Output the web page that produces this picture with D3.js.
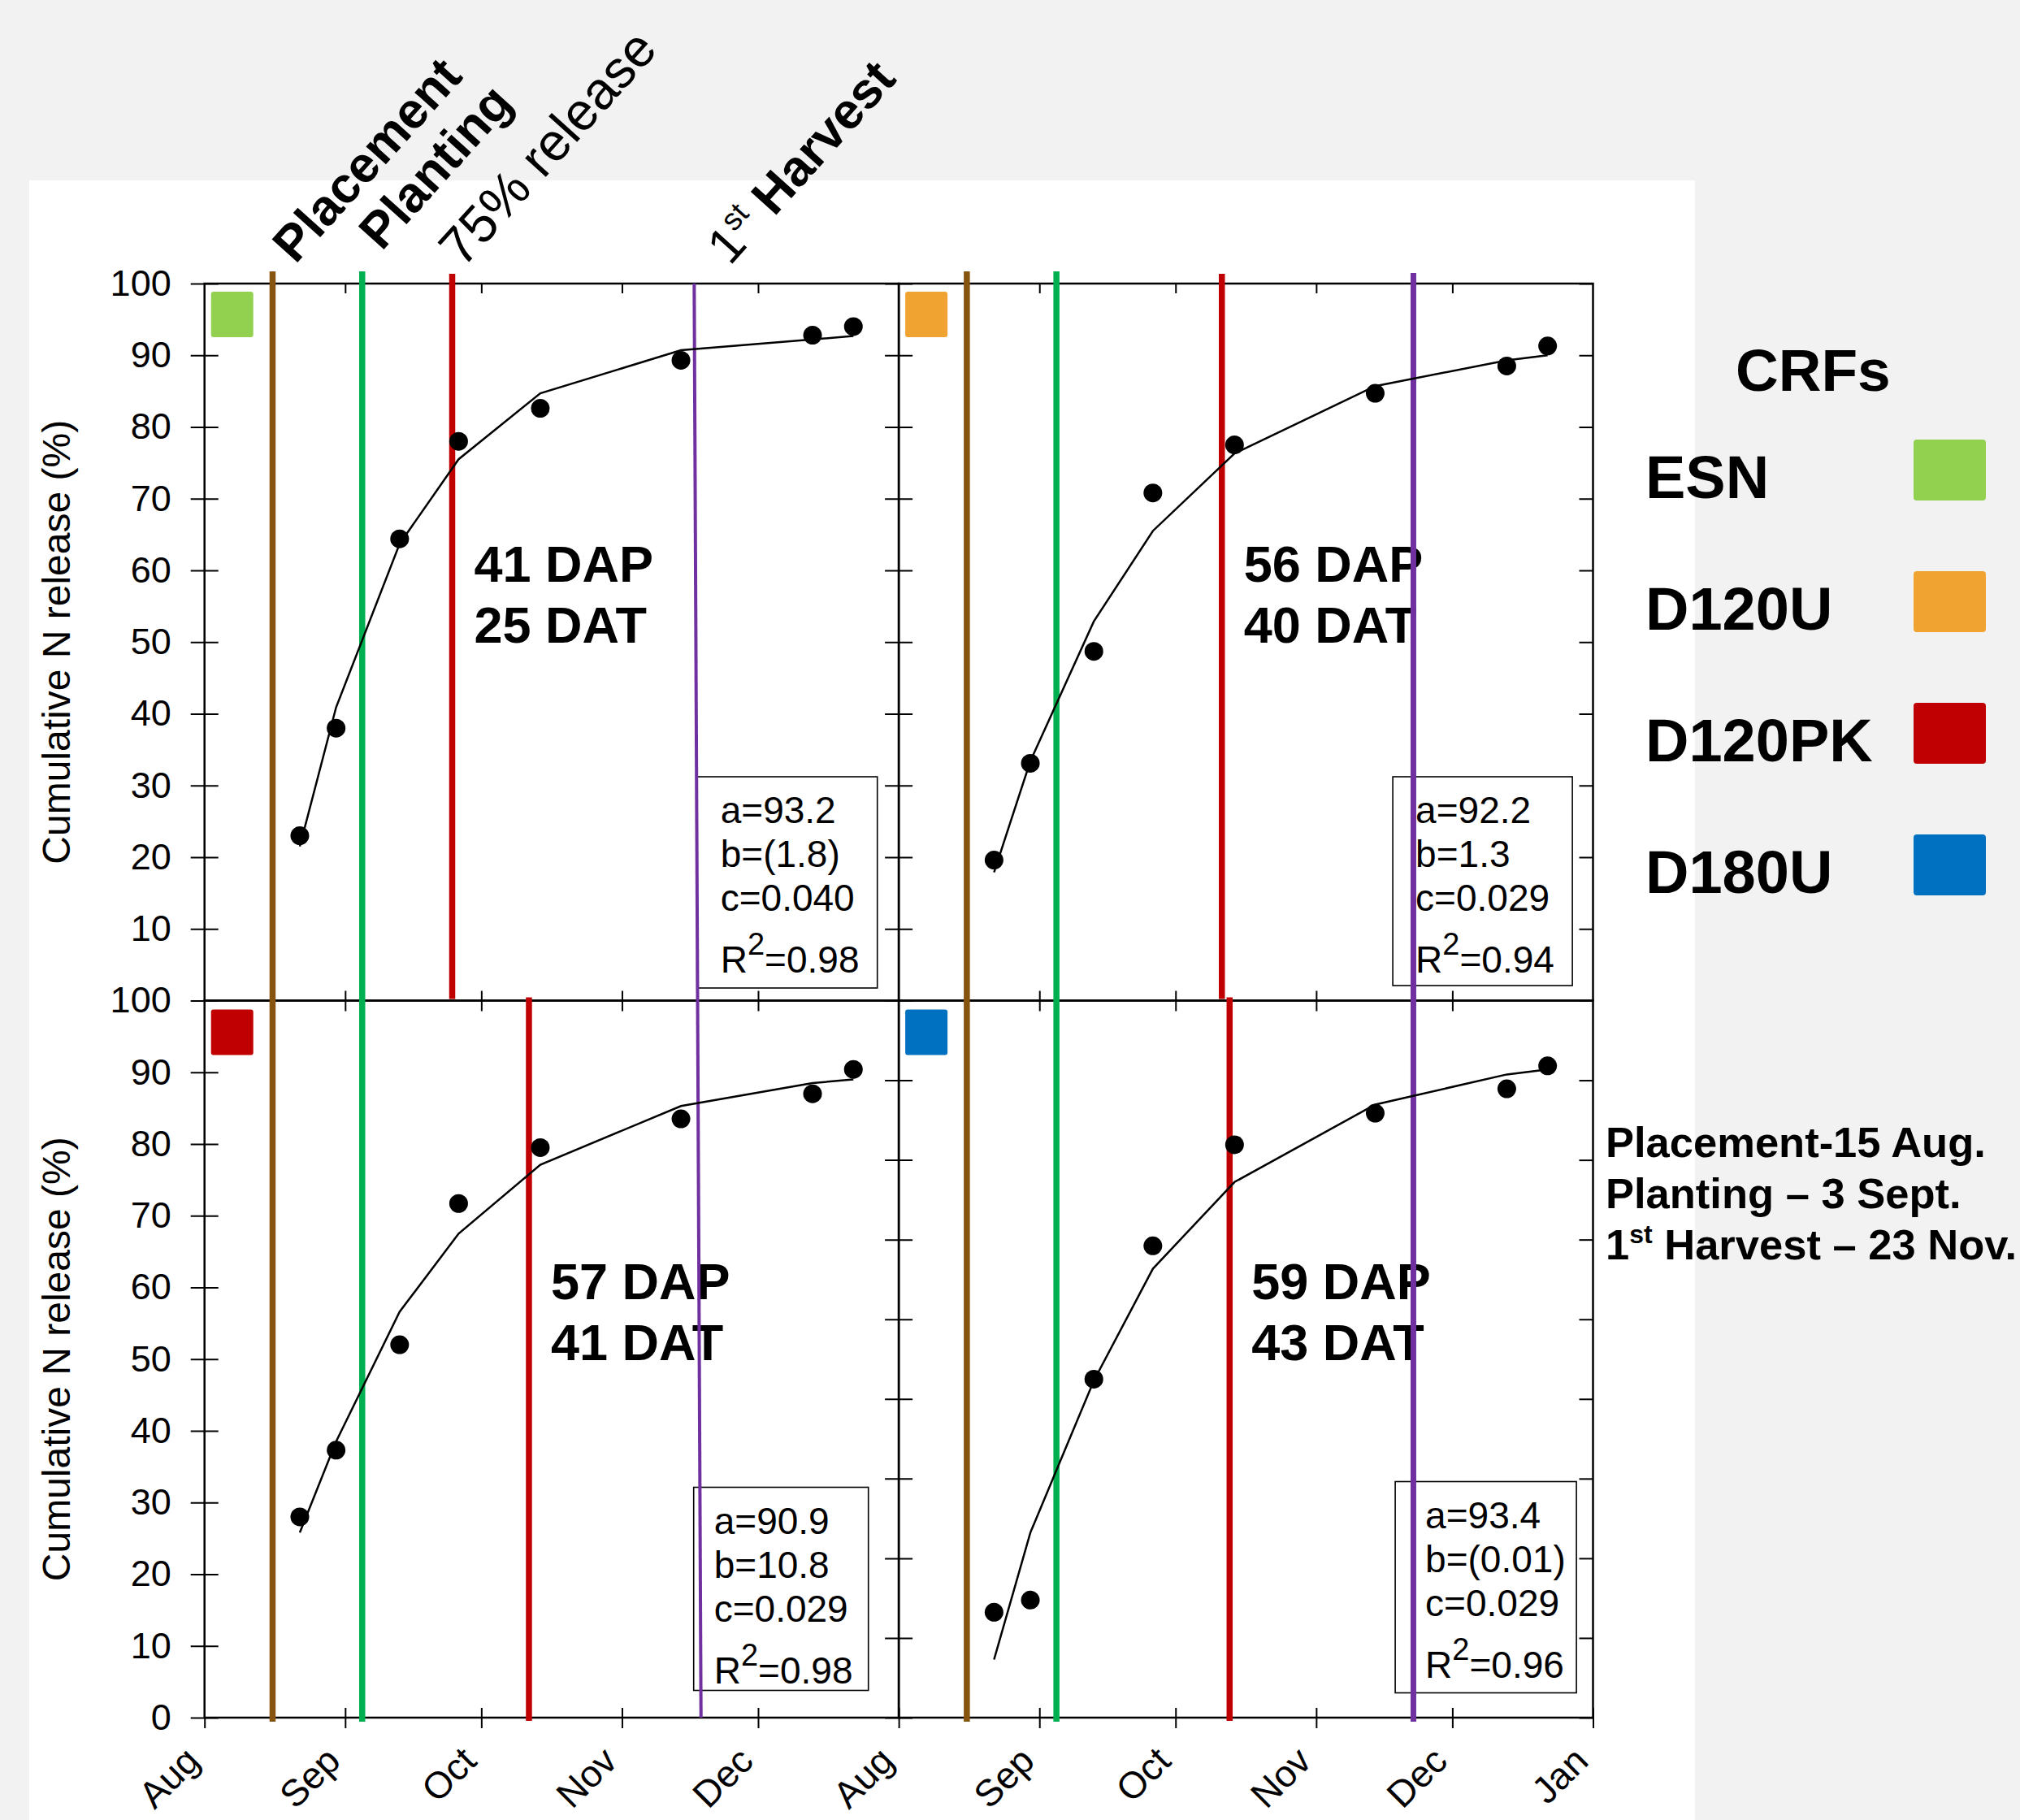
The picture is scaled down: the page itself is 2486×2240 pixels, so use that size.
<!DOCTYPE html>
<html>
<head>
<meta charset="utf-8">
<script src="https://cdn.jsdelivr.net/npm/d3@7"></script>
<style>
  body { margin: 0; background: #f2f2f2; }
  svg text { font-family: "Liberation Sans", Arial, sans-serif; fill: #000; }
</style>
</head>
<body>
<div id="chart"></div>
<script>
// ---- data ----
const crfNames = ["ESN", "D120U", "D120PK", "D180U"];
const crfColors = ["#92d050", "#f0a330", "#c00000", "#0070c0"];

const sampleDates = ["2015-08-22", "2015-08-30", "2015-09-13", "2015-09-26",
                     "2015-10-14", "2015-11-14", "2015-12-13", "2015-12-22"];

const esnObserved    = [23.0, 38.0, 64.4, 78.0, 82.6, 89.3, 92.8, 94.0];
const esnFitted      = [21.5, 40.9, 63.7, 75.5, 84.7, 90.7, 92.2, 92.7];
const d120uObserved  = [19.6, 33.1, 48.7, 70.8, 77.5, 84.7, 88.5, 91.3];
const d120uFitted    = [17.9, 33.4, 52.9, 65.5, 76.3, 85.7, 89.3, 90.0];
const d120pkObserved = [28.0, 37.3, 52.0, 71.7, 79.5, 83.5, 87.0, 90.4];
const d120pkFitted   = [25.8, 38.5, 56.6, 67.5, 77.1, 85.3, 88.5, 89.0];
const d180uObserved  = [14.7, 16.4, 47.2, 65.8, 79.9, 84.3, 87.7, 90.9];
const d180uFitted    = [8.1, 25.8, 47.0, 62.6, 74.7, 85.5, 89.7, 90.4];

const dapLabels = ["41 DAP", "56 DAP", "57 DAP", "59 DAP"];
const datLabels = ["25 DAT", "40 DAT", "41 DAT", "43 DAT"];
const fitA  = ["93.2", "92.2", "90.9", "93.4"];
const fitB  = ["(1.8)", "1.3", "10.8", "(0.01)"];
const fitC  = ["0.040", "0.029", "0.029", "0.029"];
const fitR2 = ["0.98", "0.94", "0.98", "0.96"];

// event lines as drawn
const placementDate = "2015-08-16T00:00";
const plantingDate  = "2015-09-04T18:00";
const releaseDates  = ["2015-09-24T14:00", "2015-10-11T05:00", "2015-10-11T12:00", "2015-10-12T22:00"];
const harvestLeft   = ["2015-11-16T22:00", "2015-11-18T10:00"];  // slanted in the left column
const harvestRight  = "2015-11-22T10:00";

const monthTicks = ["2015-08-01", "2015-09-01", "2015-10-01", "2015-11-01", "2015-12-01", "2016-01-01"];
const yTicks = [0, 10, 20, 30, 40, 50, 60, 70, 80, 90, 100];
const yTicksLowerRight = [0, 10, 20, 30, 40, 50, 60, 70, 80, 90];

const notes = ["Placement-15 Aug.", "Planting \u2013 3 Sept.", "Harvest \u2013 23 Nov."];

// ---- layout ----
const width = 2486;
const height = 2240;
const X0 = 251.7, Y0 = 349;
const W = 854.4, H = 882.5;

const lineColors = { placement: "#86540f", planting: "#00b050", release: "#c00000", harvest: "#7030a0" };

const statBoxes = [
  { x: 606, y: 607, w: 222, h: 260, pad: 29 },
  { x: 608, y: 607, w: 221, h: 257, pad: 28 },
  { x: 602, y: 599, w: 215, h: 250, pad: 25 },
  { x: 611, y: 592, w: 223, h: 260, pad: 37 }
];
const statBaselines = [57, 111, 165, 241];

const parseDay = d3.utcParse("%Y-%m-%d");
const parseTime = d3.utcParse("%Y-%m-%dT%H:%M");

const x = d3.scaleUtc()
  .domain([parseDay(monthTicks[0]), parseDay(monthTicks[monthTicks.length - 1])])
  .range([0, W]);
const y = d3.scaleLinear().domain([0, 100]).range([H, 0]);
const yLowerRight = d3.scaleLinear().domain([0, 90]).range([H, 0]);

const observedSets = [esnObserved, d120uObserved, d120pkObserved, d180uObserved];
const fittedSets = [esnFitted, d120uFitted, d120pkFitted, d180uFitted];

const panels = crfNames.map((name, i) => ({
  name,
  color: crfColors[i],
  col: i % 2,
  row: Math.floor(i / 2),
  observed: sampleDates.map((d, j) => ({ date: parseDay(d), v: observedSets[i][j] })),
  fitted: sampleDates.map((d, j) => ({ date: parseDay(d), v: fittedSets[i][j] })),
  release: parseTime(releaseDates[i]),
  box: statBoxes[i],
  stats: [fitA[i], fitB[i], fitC[i], fitR2[i]],
  dap: dapLabels[i],
  dat: datLabels[i]
}));

const svg = d3.select("#chart").append("svg")
  .attr("width", width)
  .attr("height", height)
  .style("display", "block");

svg.append("rect").attr("width", width).attr("height", height).attr("fill", "#f2f2f2");
svg.append("rect").attr("x", 36).attr("y", 222).attr("width", 2050).attr("height", height - 222).attr("fill", "#fff");

const months = monthTicks.map(parseDay);
const fmtMonth = d3.utcFormat("%b");

// ---- frames and axes ----
panels.forEach(p => {
  const g = svg.append("g")
    .attr("transform", `translate(${X0 + p.col * W}, ${Y0 + p.row * H})`);

  g.append("rect")
    .attr("width", W).attr("height", H)
    .attr("fill", "none").attr("stroke", "#000").attr("stroke-width", 2.5);

  const yScaleTicks = p.col === 1 && p.row === 1 ? yLowerRight : y;
  const yVals = p.col === 1 && p.row === 1 ? yTicksLowerRight : yTicks;

  // left axis, ticks cross the line
  const left = g.append("g")
    .call(d3.axisLeft(yScaleTicks)
      .tickValues(p.col === 0 && p.row === 0 ? yVals.slice(1) : yVals)
      .tickSize(17)
      .tickPadding(24)
      .tickFormat(p.col === 0 ? d3.format("d") : ""));
  left.select(".domain").remove();
  left.selectAll(".tick line").attr("x1", 17).attr("stroke-width", 2);
  left.selectAll(".tick text")
    .attr("font-size", 45)
    .attr("font-family", "Liberation Sans, Arial, sans-serif");

  // right border of the right column: ticks inside
  if (p.col === 1) {
    const right = g.append("g")
      .attr("transform", `translate(${W}, 0)`)
      .call(d3.axisRight(yScaleTicks).tickValues(yVals).tickSize(-17).tickFormat(""));
    right.select(".domain").remove();
    right.selectAll(".tick line").attr("stroke-width", 2);
  }

  // top border ticks
  const top = g.append("g")
    .call(d3.axisTop(x).tickValues(months.slice(1, -1)).tickSize(p.row === 0 ? -12 : 12).tickFormat(""));
  top.select(".domain").remove();
  top.selectAll(".tick line").attr("stroke-width", 2);
  if (p.row === 1) top.selectAll(".tick line").attr("y1", 13);

  // bottom axis with month labels
  if (p.row === 1) {
    const bottom = g.append("g")
      .attr("transform", `translate(0, ${H})`)
      .call(d3.axisBottom(x)
        .tickValues(p.col === 0 ? months.slice(0, -1) : months)
        .tickSize(13)
        .tickFormat(fmtMonth));
    bottom.select(".domain").remove();
    bottom.selectAll(".tick line").attr("y1", (d, k) => k === 0 && p.col === 0 ? 0 : -12).attr("stroke-width", 2);
    bottom.selectAll(".tick text")
      .attr("font-size", 46)
      .attr("font-family", "Liberation Sans, Arial, sans-serif")
      .attr("text-anchor", "end")
      .attr("y", null).attr("dy", null)
      .attr("transform", "translate(-4, 56) rotate(-45)");
  }

  // fit parameters box
  const b = p.box;
  const box = g.append("g").attr("transform", `translate(${b.x}, ${b.y})`);
  box.append("rect")
    .attr("width", b.w).attr("height", b.h)
    .attr("fill", "#fff").attr("stroke", "#000").attr("stroke-width", 1.6);
  const labels = ["a=", "b=", "c="];
  p.stats.forEach((s, k) => {
    const t = box.append("text")
      .attr("x", b.pad).attr("y", statBaselines[k])
      .attr("font-size", 46);
    if (k < 3) {
      t.text(labels[k] + s);
    } else {
      t.append("tspan").text("R");
      t.append("tspan").attr("font-size", 38).attr("dy", -22).text("2");
      t.append("tspan").attr("dy", 22).text("=" + s);
    }
  });

  // DAP / DAT label next to the 75% release line
  const lx = x(p.release) + 27;
  g.append("text").attr("x", lx).attr("y", 367)
    .attr("font-size", 63).attr("font-weight", "bold").text(p.dap);
  g.append("text").attr("x", lx).attr("y", 442)
    .attr("font-size", 63).attr("font-weight", "bold").text(p.dat);
});

// ---- event lines ----
[0, 1].forEach(col => {
  const lines = svg.append("g").attr("transform", `translate(${X0 + col * W}, ${Y0})`);
  [[placementDate, lineColors.placement], [plantingDate, lineColors.planting]].forEach(([d, c]) => {
    const xv = x(parseTime(d));
    lines.append("line")
      .attr("x1", xv).attr("x2", xv).attr("y1", -15).attr("y2", 2 * H + 5)
      .attr("stroke", c).attr("stroke-width", 7.5);
  });
  panels.filter(p => p.col === col).forEach(p => {
    const xv = x(p.release);
    const y1 = p.row === 0 ? -12 : H - 4;
    const y2 = p.row === 0 ? H - 2 : 2 * H + 4;
    lines.append("line")
      .attr("x1", xv).attr("x2", xv).attr("y1", y1).attr("y2", y2)
      .attr("stroke", lineColors.release).attr("stroke-width", 7.5);
  });
  if (col === 0) {
    lines.append("line")
      .attr("x1", x(parseTime(harvestLeft[0]))).attr("y1", 0)
      .attr("x2", x(parseTime(harvestLeft[1]))).attr("y2", 2 * H)
      .attr("stroke", lineColors.harvest).attr("stroke-width", 4);
  } else {
    const xv = x(parseTime(harvestRight));
    lines.append("line")
      .attr("x1", xv).attr("x2", xv).attr("y1", -13).attr("y2", 2 * H + 5)
      .attr("stroke", lineColors.harvest).attr("stroke-width", 7);
  }
});

// ---- fitted curves, observations and panel swatches ----
const line = d3.line().x(d => x(d.date)).y(d => y(d.v));
panels.forEach(p => {
  const g = svg.append("g")
    .attr("transform", `translate(${X0 + p.col * W}, ${Y0 + p.row * H})`);
  g.append("path")
    .datum(p.fitted)
    .attr("fill", "none").attr("stroke", "#000").attr("stroke-width", 2.5)
    .attr("d", line);
  g.selectAll("circle")
    .data(p.observed)
    .join("circle")
    .attr("cx", d => x(d.date))
    .attr("cy", d => y(d.v))
    .attr("r", 11.5)
    .attr("fill", "#000");
  g.append("rect")
    .attr("x", 8).attr("y", p.row === 0 ? 10 : 11)
    .attr("width", 52).attr("height", 56).attr("rx", 3)
    .attr("fill", p.color);
});

// ---- rotated event labels above the top-left panel ----
const angle = -48;
const evLabels = [
  { text: "Placement", x: X0 + x(parseTime(placementDate)) + 28, y: 326, bold: true, size: 62 },
  { text: "Planting", x: X0 + x(parseTime(plantingDate)) + 24, y: 310, bold: true, size: 62 },
  { text: "75% release", x: X0 + x(panels[0].release) + 13, y: 331, bold: false, size: 65 }
];
evLabels.forEach(e => {
  svg.append("text")
    .attr("transform", `translate(${e.x}, ${e.y}) rotate(${angle})`)
    .attr("font-size", e.size)
    .attr("font-weight", e.bold ? "bold" : "normal")
    .text(e.text);
});
const harvestLabel = svg.append("text")
  .attr("transform", `translate(${X0 + x(parseTime(harvestLeft[0])) + 44}, 328) rotate(${angle})`)
  .attr("font-size", 62);
harvestLabel.append("tspan").text("1");
harvestLabel.append("tspan").attr("font-size", 38).attr("dy", -24).text("st");
harvestLabel.append("tspan").attr("dy", 24).attr("font-weight", "bold").text(" Harvest");

// ---- y axis titles ----
[0, 1].forEach(row => {
  svg.append("text")
    .attr("transform", `translate(86, ${Y0 + row * H + H / 2}) rotate(-90)`)
    .attr("text-anchor", "middle")
    .attr("font-size", 48)
    .text("Cumulative N release (%)");
});

// ---- legend ----
const legend = svg.append("g");
legend.append("text")
  .attr("x", 2136).attr("y", 481)
  .attr("font-size", 73).attr("font-weight", "bold")
  .text("CRFs");
crfNames.forEach((name, i) => {
  legend.append("text")
    .attr("x", 2025).attr("y", 613 + i * 162)
    .attr("font-size", 74).attr("font-weight", "bold")
    .text(name);
  legend.append("rect")
    .attr("x", 2355).attr("y", 541 + i * 162)
    .attr("width", 89).attr("height", 75).attr("rx", 4)
    .attr("fill", crfColors[i]);
});

// ---- date notes ----
notes.forEach((n, i) => {
  const t = svg.append("text")
    .attr("x", 1976).attr("y", 1424 + i * 63)
    .attr("font-size", 52.5).attr("font-weight", "bold");
  if (i === 2) {
    t.append("tspan").text("1");
    t.append("tspan").attr("font-size", 32).attr("dy", -20).text("st");
    t.append("tspan").attr("dy", 20).text(" " + n);
  } else {
    t.text(n);
  }
});
</script>
</body>
</html>
